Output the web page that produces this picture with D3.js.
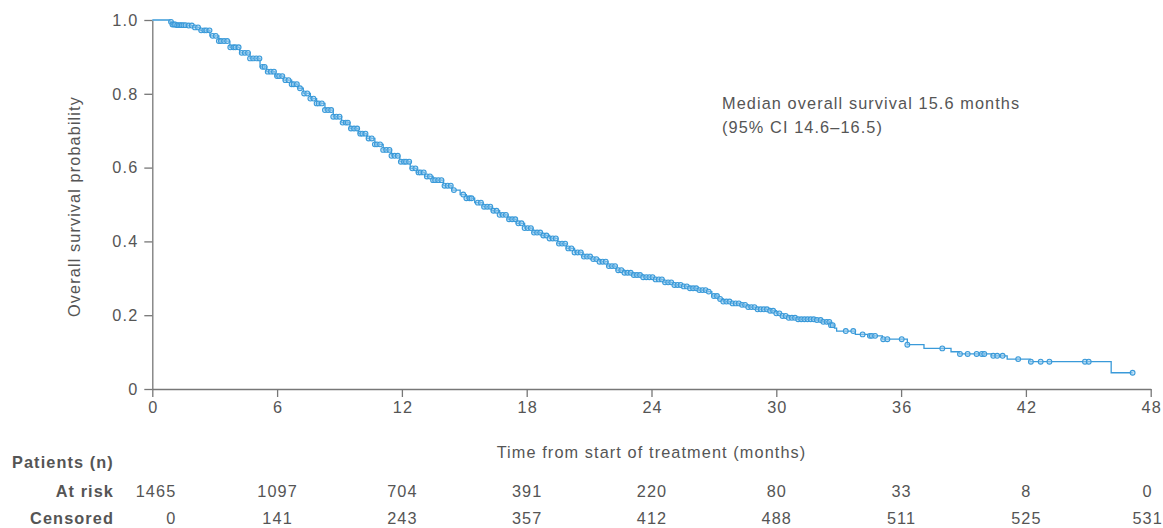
<!DOCTYPE html>
<html><head><meta charset="utf-8">
<script src="https://cdn.jsdelivr.net/npm/d3@7"></script>
<style>
body{margin:0;background:#fff;}
svg{display:block;font-family:"Liberation Sans",Arial,sans-serif;}
svg text{letter-spacing:1.1px;}
</style></head>
<body><svg id="chart" width="1163" height="528"></svg>
<script>
// ---- data ----
const kmTimes = [0,0.85,0.95,1.2,1.65,1.97,2.3,2.77,3.2,3.73,4.2,4.7,5.18,5.5,5.9,6.3,6.7,7.0,7.26,7.6,7.9,8.3,8.7,9.1,9.5,9.9,10.3,10.7,11.1,11.5,11.9,12.4,12.7,13.1,13.5,14.0,14.4,14.8,15.1,15.5,15.9,16.3,16.7,17.1,17.5,17.9,18.3,18.7,19.1,19.5,19.9,20.3,20.7,21.1,21.5,21.9,22.3,22.7,23.1,23.6,24.1,24.6,25.05,25.45,25.85,26.25,26.65,26.9,27.2,27.45,27.85,28.25,28.65,29.05,29.7,30.0,30.2,30.6,31.0,31.9,32.2,32.6,32.8,32.9,33.8,34.4,35.1,36.3,37.1,38.4,38.8,40.35,41.1,42.2,46.1];
const kmSurv  = [1.0,0.995,0.988,0.986,0.985,0.98,0.972,0.957,0.943,0.926,0.911,0.896,0.873,0.86,0.848,0.837,0.826,0.815,0.801,0.787,0.774,0.756,0.738,0.722,0.706,0.692,0.679,0.663,0.648,0.632,0.616,0.598,0.587,0.576,0.566,0.551,0.539,0.527,0.517,0.505,0.494,0.483,0.472,0.46,0.449,0.436,0.424,0.416,0.408,0.394,0.381,0.37,0.359,0.352,0.345,0.333,0.322,0.315,0.309,0.303,0.297,0.289,0.282,0.278,0.273,0.268,0.264,0.252,0.244,0.237,0.232,0.228,0.222,0.216,0.212,0.205,0.198,0.193,0.189,0.187,0.182,0.173,0.165,0.157,0.148,0.144,0.135,0.12,0.11,0.101,0.095,0.09,0.081,0.074,0.044];
const followUpEnd = 47.13;
const censorTimes = [0.9,0.97,1.05,1.1,1.2,1.28,1.35,1.42,1.5,1.6,1.75,1.9,2.05,2.2,2.35,2.5,2.6,2.75,2.9,3.05,3.2,3.3,3.45,3.6,3.75,3.9,4.0,4.15,4.3,4.45,4.6,4.7,4.85,5.0,5.15,5.3,5.4,5.55,5.7,5.85,6.0,6.1,6.25,6.4,6.55,6.7,6.8,6.95,7.1,7.3,7.45,7.6,7.75,7.9,8.0,8.15,8.3,8.45,8.6,8.7,8.85,9.0,9.15,9.3,9.4,9.55,9.7,9.85,10.0,10.1,10.25,10.4,10.55,10.7,10.8,10.95,11.1,11.25,11.4,11.5,11.65,11.8,11.95,12.1,12.2,12.35,12.5,12.65,12.8,12.9,13.05,13.2,13.35,13.5,13.6,13.75,13.9,14.05,14.2,14.35,14.5,14.95,15.1,15.25,15.35,15.65,15.8,15.95,16.1,16.25,16.4,16.55,16.7,16.85,17.0,17.15,17.3,17.45,17.6,17.75,17.9,18.05,18.2,18.35,18.5,18.65,18.8,18.95,19.1,19.25,19.4,19.55,19.7,19.85,20.0,20.15,20.3,20.45,20.6,20.75,20.9,21.05,21.2,21.35,21.5,21.65,21.8,21.95,22.1,22.25,22.4,22.55,22.7,22.85,23.0,23.15,23.3,23.45,23.6,23.75,23.9,24.05,24.2,24.35,24.5,24.65,24.8,24.95,25.1,25.25,25.4,25.55,25.7,25.85,26.0,26.15,26.3,26.45,26.6,26.75,27.0,27.15,27.3,27.45,27.6,27.75,27.9,28.05,28.2,28.35,28.5,28.65,28.8,28.95,29.1,29.25,29.4,29.55,29.7,29.85,30.0,30.15,30.3,30.45,30.6,30.75,30.9,31.05,31.2,31.35,31.5,31.65,31.8,31.95,32.13,32.26,32.42,32.55,32.63,32.71,33.34,33.7,34.15,34.5,34.59,34.75,35.14,35.34,36.03,36.3,37.98,38.83,39.2,39.63,39.88,40.0,40.43,40.62,40.88,41.63,42.24,42.71,43.13,44.84,45.02,47.13];
const xTicks = [0,6,12,18,24,30,36,42,48];
const yTicks = [0,0.2,0.4,0.6,0.8,1.0];
const atRisk = [1465,1097,704,391,220,80,33,8,0];
const censored = [0,141,243,357,412,488,511,525,531];
const yLabel = "Overall survival probability";
const xLabel = "Time from start of treatment (months)";
const noteLines = ["Median overall survival 15.6 months","(95% CI 14.6\u201316.5)"];

// ---- layout ----
const blue = "#3a9ad9", textCol = "#555", axisCol = "#777", fs = 16.3;
const svg = d3.select("#chart");
const x = d3.scaleLinear().domain([0,48]).range([152.3,1150.7]);
const y = d3.scaleLinear().domain([0,1]).range([389,20]);

const km = kmTimes.map((t,i)=>({t, s:kmSurv[i]}));
km.push({t:followUpEnd, s:kmSurv[kmSurv.length-1]});
const bis = d3.bisector(d=>d.t).right;
const survAt = t => km[Math.max(0,bis(km,t)-1)].s;

// axes
const yAxis = svg.append("g").attr("transform",`translate(${x(0)},0)`)
  .call(d3.axisLeft(y).tickValues(yTicks).tickSize(8).tickSizeOuter(0).tickPadding(6)
    .tickFormat(d=> d===0 ? "0" : d3.format(".1f")(d)));
const xAxis = svg.append("g").attr("transform",`translate(0,${y(0)})`)
  .call(d3.axisBottom(x).tickValues(xTicks).tickSize(8).tickSizeOuter(0).tickPadding(4)
    .tickFormat(d3.format("d")));
[yAxis,xAxis].forEach(g=>{
  g.selectAll("path,line").attr("stroke",axisCol).attr("stroke-width",1.3);
  g.selectAll("text").attr("fill",textCol).attr("font-size",fs)
    .attr("font-family","'Liberation Sans',Arial,sans-serif");
});
xAxis.selectAll("text").attr("dx","0.55px");

// curve
const line = d3.line().x(d=>x(d.t)).y(d=>y(d.s)).curve(d3.curveStepAfter);
svg.append("path").datum(km).attr("d",line).attr("fill","none")
  .attr("stroke",blue).attr("stroke-width",1.3);
svg.append("g").selectAll("circle").data(censorTimes).join("circle")
  .attr("cx",d=>x(d)).attr("cy",d=>y(survAt(d))).attr("r",2.4)
  .attr("fill","#9fd0f0").attr("fill-opacity",0.55)
  .attr("stroke",blue).attr("stroke-width",1.1);

// labels
svg.append("text").attr("transform",`translate(80,${(y(0)+y(1))/2+2}) rotate(-90)`)
  .attr("text-anchor","middle").attr("fill",textCol).attr("font-size",fs).text(yLabel);
svg.append("text").attr("x",(x(0)+x(48))/2).attr("y",458).attr("text-anchor","middle")
  .attr("fill",textCol).attr("font-size",fs).text(xLabel);
svg.append("g").selectAll("text").data(noteLines).join("text")
  .attr("x",722).attr("y",(d,i)=>109+i*24).attr("fill",textCol).attr("font-size",fs).text(d=>d);

// risk table
svg.append("text").attr("x",12).attr("y",468).attr("font-weight","bold").attr("fill",textCol)
  .attr("font-size",fs).text("Patients (n)");
const last = xTicks.length-1;
[["At risk",atRisk,497],["Censored",censored,524]].forEach(([lab,vals,yy])=>{
  svg.append("text").attr("x",114).attr("y",yy).attr("text-anchor","end").attr("font-weight","bold")
    .attr("fill",textCol).attr("font-size",fs).text(lab);
  svg.append("g").selectAll("text").data(vals).join("text")
    .attr("x",(d,i)=> i===0 ? x(xTicks[i])+24 : (i===last ? x(xTicks[i])-3 : x(xTicks[i])+0.5))
    .attr("text-anchor",(d,i)=> i===0 ? "end" : "middle")
    .attr("y",yy).attr("fill",textCol).attr("font-size",fs).text(d=>d);
});
</script></body></html>
